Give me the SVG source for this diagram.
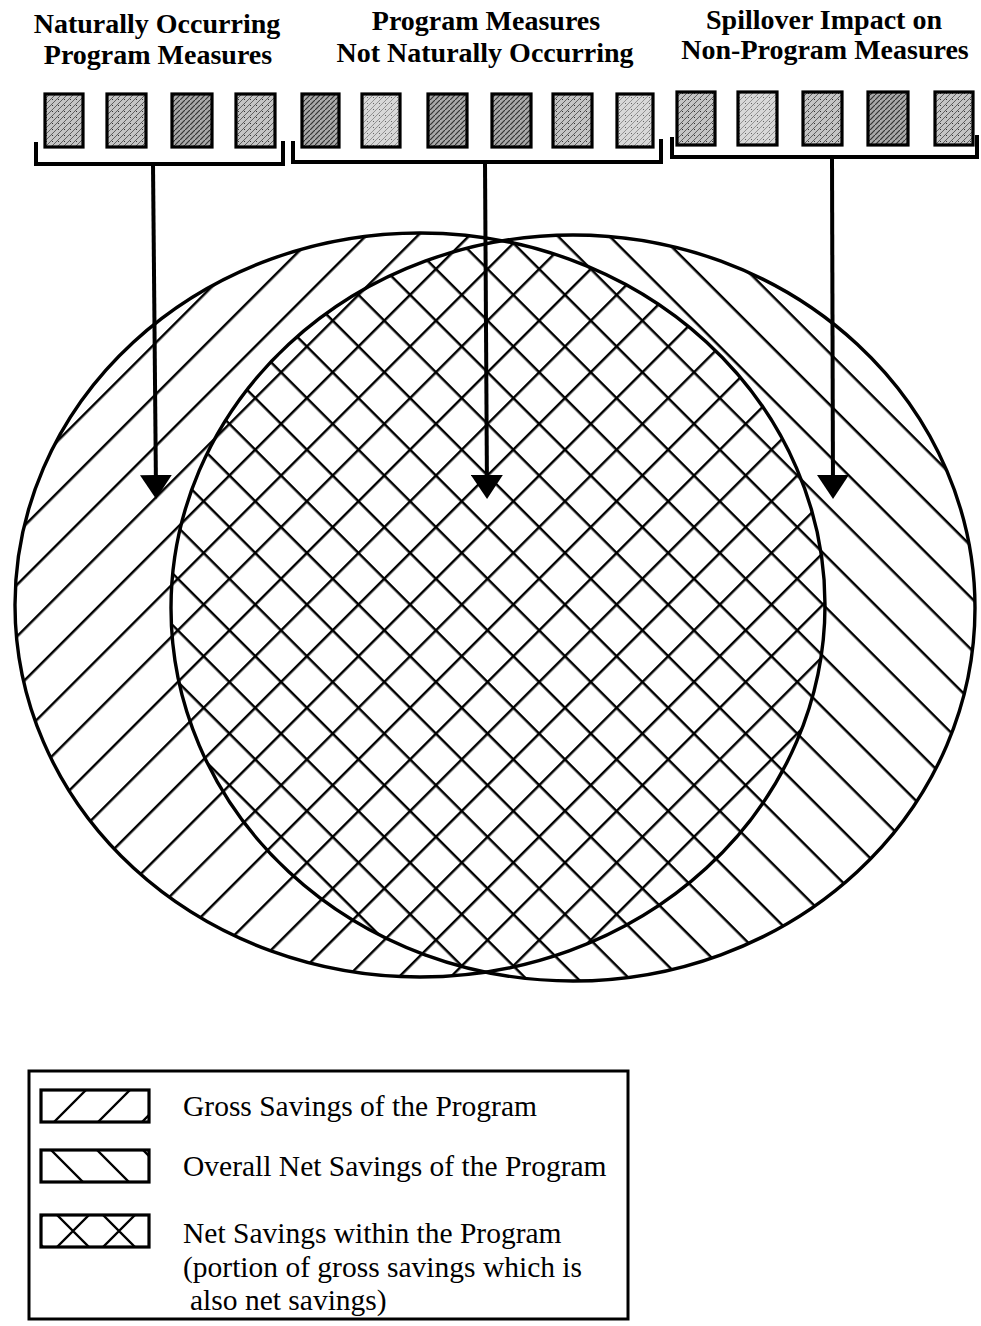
<svg xmlns="http://www.w3.org/2000/svg" width="981" height="1326" viewBox="0 0 981 1326">
<style>
.hd{font-family:"Liberation Serif","Times New Roman",serif;font-weight:bold;font-size:28px;fill:#000;text-anchor:middle}
.lg{font-family:"Liberation Serif","Times New Roman",serif;font-size:29.5px;fill:#000}
.box{stroke:#000;stroke-width:3.2}
.br{fill:none;stroke:#000;stroke-width:4;stroke-linejoin:miter}
.ell{fill:none;stroke:#000;stroke-width:3.4}
.arr{stroke:#000;stroke-width:4;fill:none}
.hl{stroke:#000;stroke-width:2.4}
.sw{fill:none;stroke:#000;stroke-width:3.2}
</style>
<defs>
<pattern id="stL" width="6" height="6" patternUnits="userSpaceOnUse"><rect width="6" height="6" fill="#d8d8d8"/><path d="M0,6 L6,0" stroke="#8a8a8a" stroke-width="0.9"/><rect x="1" y="1" width="1" height="1" fill="#666"/></pattern>
<pattern id="stM" width="6" height="6" patternUnits="userSpaceOnUse"><rect width="6" height="6" fill="#c4c4c4"/><path d="M0,6 L6,0" stroke="#5e5e5e" stroke-width="1"/><rect x="4" y="3" width="1" height="1" fill="#333"/></pattern>
<pattern id="stD" width="5" height="5" patternUnits="userSpaceOnUse"><rect width="5" height="5" fill="#aaaaaa"/><path d="M0,5 L5,0" stroke="#333" stroke-width="1.2"/></pattern>
<pattern id="hatchGross" width="40" height="36.5" patternUnits="userSpaceOnUse" patternTransform="rotate(-45) translate(0,6)"><line class="hl" x1="-2" y1="18" x2="42" y2="18"/></pattern>
<pattern id="hatchNet" width="40" height="36.5" patternUnits="userSpaceOnUse" patternTransform="rotate(45) translate(0,10)"><line class="hl" x1="-2" y1="18" x2="42" y2="18"/></pattern>
<marker id="head" viewBox="0 0 24 32" refX="16" refY="16" markerWidth="24" markerHeight="32" markerUnits="userSpaceOnUse" orient="auto"><path d="M0,0 L24,16 L0,32 Z" fill="#000"/></marker>
<clipPath id="c1"><rect x="41" y="1090" width="108" height="32"/></clipPath>
<clipPath id="c2"><rect x="41" y="1150" width="108" height="32"/></clipPath>
<clipPath id="c3"><rect x="41" y="1215" width="108" height="32"/></clipPath>
</defs>
<rect width="981" height="1326" fill="#fff"/>

<g id="heading-natural">
<text class="hd" x="157" y="33">Naturally Occurring</text>
<text class="hd" x="158" y="64">Program Measures</text>
</g>
<g id="heading-program">
<text class="hd" x="486" y="30">Program Measures</text>
<text class="hd" x="485" y="62">Not Naturally Occurring</text>
</g>
<g id="heading-spillover">
<text class="hd" x="824" y="29">Spillover Impact on</text>
<text class="hd" x="825" y="59">Non-Program Measures</text>
</g>

<g id="measures-natural">
<rect class="box" x="45" y="94" width="38" height="53" fill="url(#stM)"/>
<rect class="box" x="107" y="94" width="39" height="53" fill="url(#stM)"/>
<rect class="box" x="172" y="94" width="40" height="53" fill="url(#stD)"/>
<rect class="box" x="236" y="94" width="39" height="53" fill="url(#stM)"/>
<path class="br" d="M36,142 V164 H283 V141"/>
</g>
<g id="measures-program">
<rect class="box" x="302" y="94" width="37" height="53" fill="url(#stD)"/>
<rect class="box" x="362" y="94" width="38" height="53" fill="url(#stL)"/>
<rect class="box" x="428" y="94" width="39" height="53" fill="url(#stD)"/>
<rect class="box" x="492" y="94" width="39" height="53" fill="url(#stD)"/>
<rect class="box" x="553" y="94" width="39" height="53" fill="url(#stM)"/>
<rect class="box" x="617" y="94" width="36" height="53" fill="url(#stL)"/>
<path class="br" d="M293,141 V162 H661 V139"/>
</g>
<g id="measures-spillover">
<rect class="box" x="677" y="92" width="38" height="53" fill="url(#stM)"/>
<rect class="box" x="738" y="92" width="39" height="53" fill="url(#stL)"/>
<rect class="box" x="803" y="92" width="39" height="53" fill="url(#stM)"/>
<rect class="box" x="868" y="92" width="40" height="53" fill="url(#stD)"/>
<rect class="box" x="935" y="92" width="38" height="53" fill="url(#stM)"/>
<path class="br" d="M672,137 V157 H977 V135"/>
</g>

<g id="ellipse-gross">
<ellipse cx="420" cy="605" rx="405" ry="372" fill="url(#hatchGross)"/>
</g>
<g id="ellipse-net">
<ellipse cx="573" cy="608" rx="402" ry="373" fill="url(#hatchNet)"/>
</g>
<g id="ellipse-outlines">
<ellipse class="ell" cx="420" cy="605" rx="405" ry="372"/>
<ellipse class="ell" cx="573" cy="608" rx="402" ry="373"/>
</g>

<g id="connectors">
<line class="arr" x1="153" y1="164" x2="156" y2="491" marker-end="url(#head)"/>
<line class="arr" x1="485" y1="162" x2="487" y2="491" marker-end="url(#head)"/>
<line class="arr" x1="832" y1="157" x2="833" y2="491" marker-end="url(#head)"/>
</g>

<g id="legend">
<rect x="29" y="1071" width="599" height="248" fill="none" stroke="#000" stroke-width="3"/>
<g clip-path="url(#c1)">
<path class="hl" d="M10,1122 L42,1090 M54,1122 L86,1090 M98,1122 L130,1090 M142,1122 L174,1090"/>
</g>
<rect class="sw" x="41" y="1090" width="108" height="32"/>
<g clip-path="url(#c2)">
<path class="hl" d="M5,1150 L37,1182 M51,1150 L83,1182 M97,1150 L129,1182 M143,1150 L175,1182"/>
</g>
<rect class="sw" x="41" y="1150" width="108" height="32"/>
<g clip-path="url(#c3)">
<path class="hl" d="M11,1247 L43,1215 M57,1247 L89,1215 M103,1247 L135,1215 M149,1247 L181,1215 M11,1215 L43,1247 M57,1215 L89,1247 M103,1215 L135,1247 M149,1215 L181,1247"/>
</g>
<rect class="sw" x="41" y="1215" width="108" height="32"/>
<text class="lg" x="183" y="1116">Gross Savings of the Program</text>
<text class="lg" x="183" y="1176">Overall Net Savings of the Program</text>
<text class="lg" x="183" y="1243">Net Savings within the Program</text>
<text class="lg" x="183" y="1277">(portion of gross savings which is</text>
<text class="lg" x="190" y="1310">also net savings)</text>
</g>
</svg>
